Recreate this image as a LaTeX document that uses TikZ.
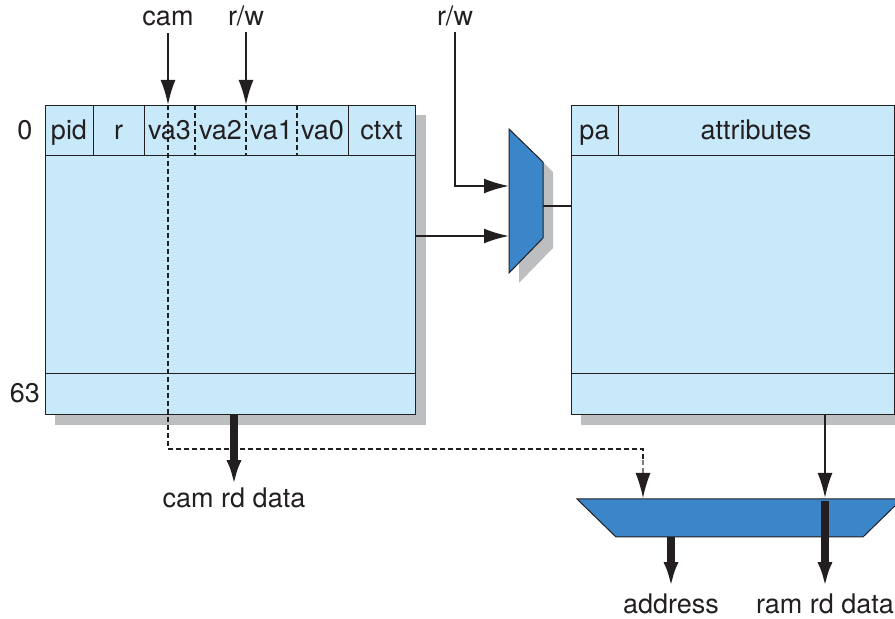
\documentclass[tikz,border=0pt]{standalone}
\usepackage{fontspec}
\setmainfont{TeX Gyre Heros}
\usetikzlibrary{arrows.meta}
\usetikzlibrary{backgrounds}
\definecolor{cellblue}{HTML}{C7E9F9}
\definecolor{muxblue}{HTML}{3A86C8}
\definecolor{shadowgray}{HTML}{BCBEC0}
\definecolor{inkgray}{HTML}{231F20}
\definecolor{dashgray}{HTML}{7A7A7A}

\begin{document}
\begin{tikzpicture}[
            x = 0.5pt, y = -0.5pt, % one unit per pixel
            > = {Latex[length=12.5pt, width=7.5pt]}, % arrow head style
            line width = 1.1pt,
            draw = inkgray,
            font = \fontsize{13.5}{16}\selectfont
        ]

        \tikzstyle{membox}=[
            draw = inkgray,
            fill = cellblue,
            line width = 0.5pt,
            inner sep = 0pt,
            anchor = north west
        ]
        \tikzstyle{rule}=[line width = 0.5pt]
        \tikzstyle{dashrule}=[line width = 0.6pt, dash pattern = on 2.5pt off 1.5pt]
        \tikzstyle{lbl}=[text = inkgray, inner sep = 0pt, anchor = base]
        \tikzstyle{bus}=[line width = 4pt, ->]
        \tikzstyle{muxshape}=[fill = muxblue, draw = inkgray, line width = 0.5pt]

        \useasboundingbox (0,0) rectangle (895,619);
        \clip (0,0) rectangle (895,619);

	% cam and ram arrays
        \node[membox, minimum width = 185pt, minimum height = 154.5pt] (cam) at (45,105) {};
        \node[membox, minimum width = 161.5pt, minimum height = 154.5pt] (ram) at (571,105) {};

        \begin{scope}[on background layer]
        \fill[shadowgray] ([xshift=5pt, yshift=-5pt]cam.north west) rectangle ([xshift=5pt, yshift=-5pt]cam.south east);
        \fill[shadowgray] ([xshift=5pt, yshift=-5pt]ram.north west) rectangle ([xshift=5pt, yshift=-5pt]ram.south east);
        \end{scope}

        % rows
        \draw[rule] (45,156) -- (415,156);
        \draw[rule] (45,374) -- (415,374);
        \draw[rule] (571,156) -- (894,156);
        \draw[rule] (571,374) -- (894,374);

        % fields
        \foreach \x in {93,144,348} \draw[rule] (\x,105) -- (\x,156);
        \foreach \x in {195,246,297} \draw[dashrule] (\x,105) -- (\x,156);
        \draw[rule] (618,105) -- (618,156);

        \foreach \x/\t in {69/pid, 118.5/r, 169.5/va3, 220.5/va2, 271.5/va1, 322.5/va0, 381.5/ctxt}
            \node[lbl] (field-\t) at (\x,140) {\t};
        \node[lbl] (field-pa) at (594.5,140) {pa};
        \node[lbl] (field-attr) at (756,140) {attributes};

        \node[lbl] (row0) at (25,140) {0};
        \node[lbl] (row63) at (25,403) {63};

         % muxes
         \fill[shadowgray] (519,139) -- (553,172) -- (553,248) -- (519,283) -- cycle;
         \draw[muxshape] (509,129) -- (543,162) -- (543,238) -- (509,273) -- cycle;
         \draw[muxshape] (577,499) -- (902,499) -- (863,537) -- (616,537) -- cycle;

         \coordinate (muxA) at (509,186);
         \coordinate (muxB) at (509,236);
         \coordinate (muxout) at (543,206);
         \coordinate (dsel) at (643,498);
         \coordinate (ramin) at (825,498);
         \coordinate (addrout) at (671,537);
         \coordinate (dbend) at (168,449);

         % inputs
         \node[lbl] (camsel) at (168,26) {cam};
         \node[lbl] (rwcam) at (246,26) {r/w};
         \node[lbl] (rwmux) at (455,26) {r/w};

         \draw[->, shorten <=3pt] (camsel.south) -- (camsel.south |- cam.north);
         \draw[->, shorten <=2pt] (rwcam.south) -- (rwcam.south |- cam.north);
         \draw[->, shorten <=2pt] (rwmux.south) |- (muxA);
         \draw[->] (cam.east |- muxB) -- (muxB);
         \draw (muxout) -- (muxout -| ram.west);

         \draw[dashrule] (camsel.south |- cam.north) -- (dbend) -| (643,460);
         \draw[dashrule, dashgray, -{Latex[length=12.5pt, width=7.5pt, fill=inkgray, color=inkgray]}] (643,460) -- (dsel);
         \draw[->] (ram.south -| ramin) -- (ramin);

         % outputs
         \node[lbl] (camdata) at (234,508) {cam rd data};
         \node[lbl] (address) at (671,614) {address};
         \node[lbl] (ramdata) at (825,614) {ram rd data};

         \draw[bus, shorten >=1pt] (cam.south -| camdata) -- (camdata.north);
         \draw[bus, shorten >=3pt] ([yshift=-1.5pt]ramin) -- (ramdata.north);
         \draw[bus, shorten >=3pt] (addrout) -- (address.north);

  \end{tikzpicture}
\end{document}
